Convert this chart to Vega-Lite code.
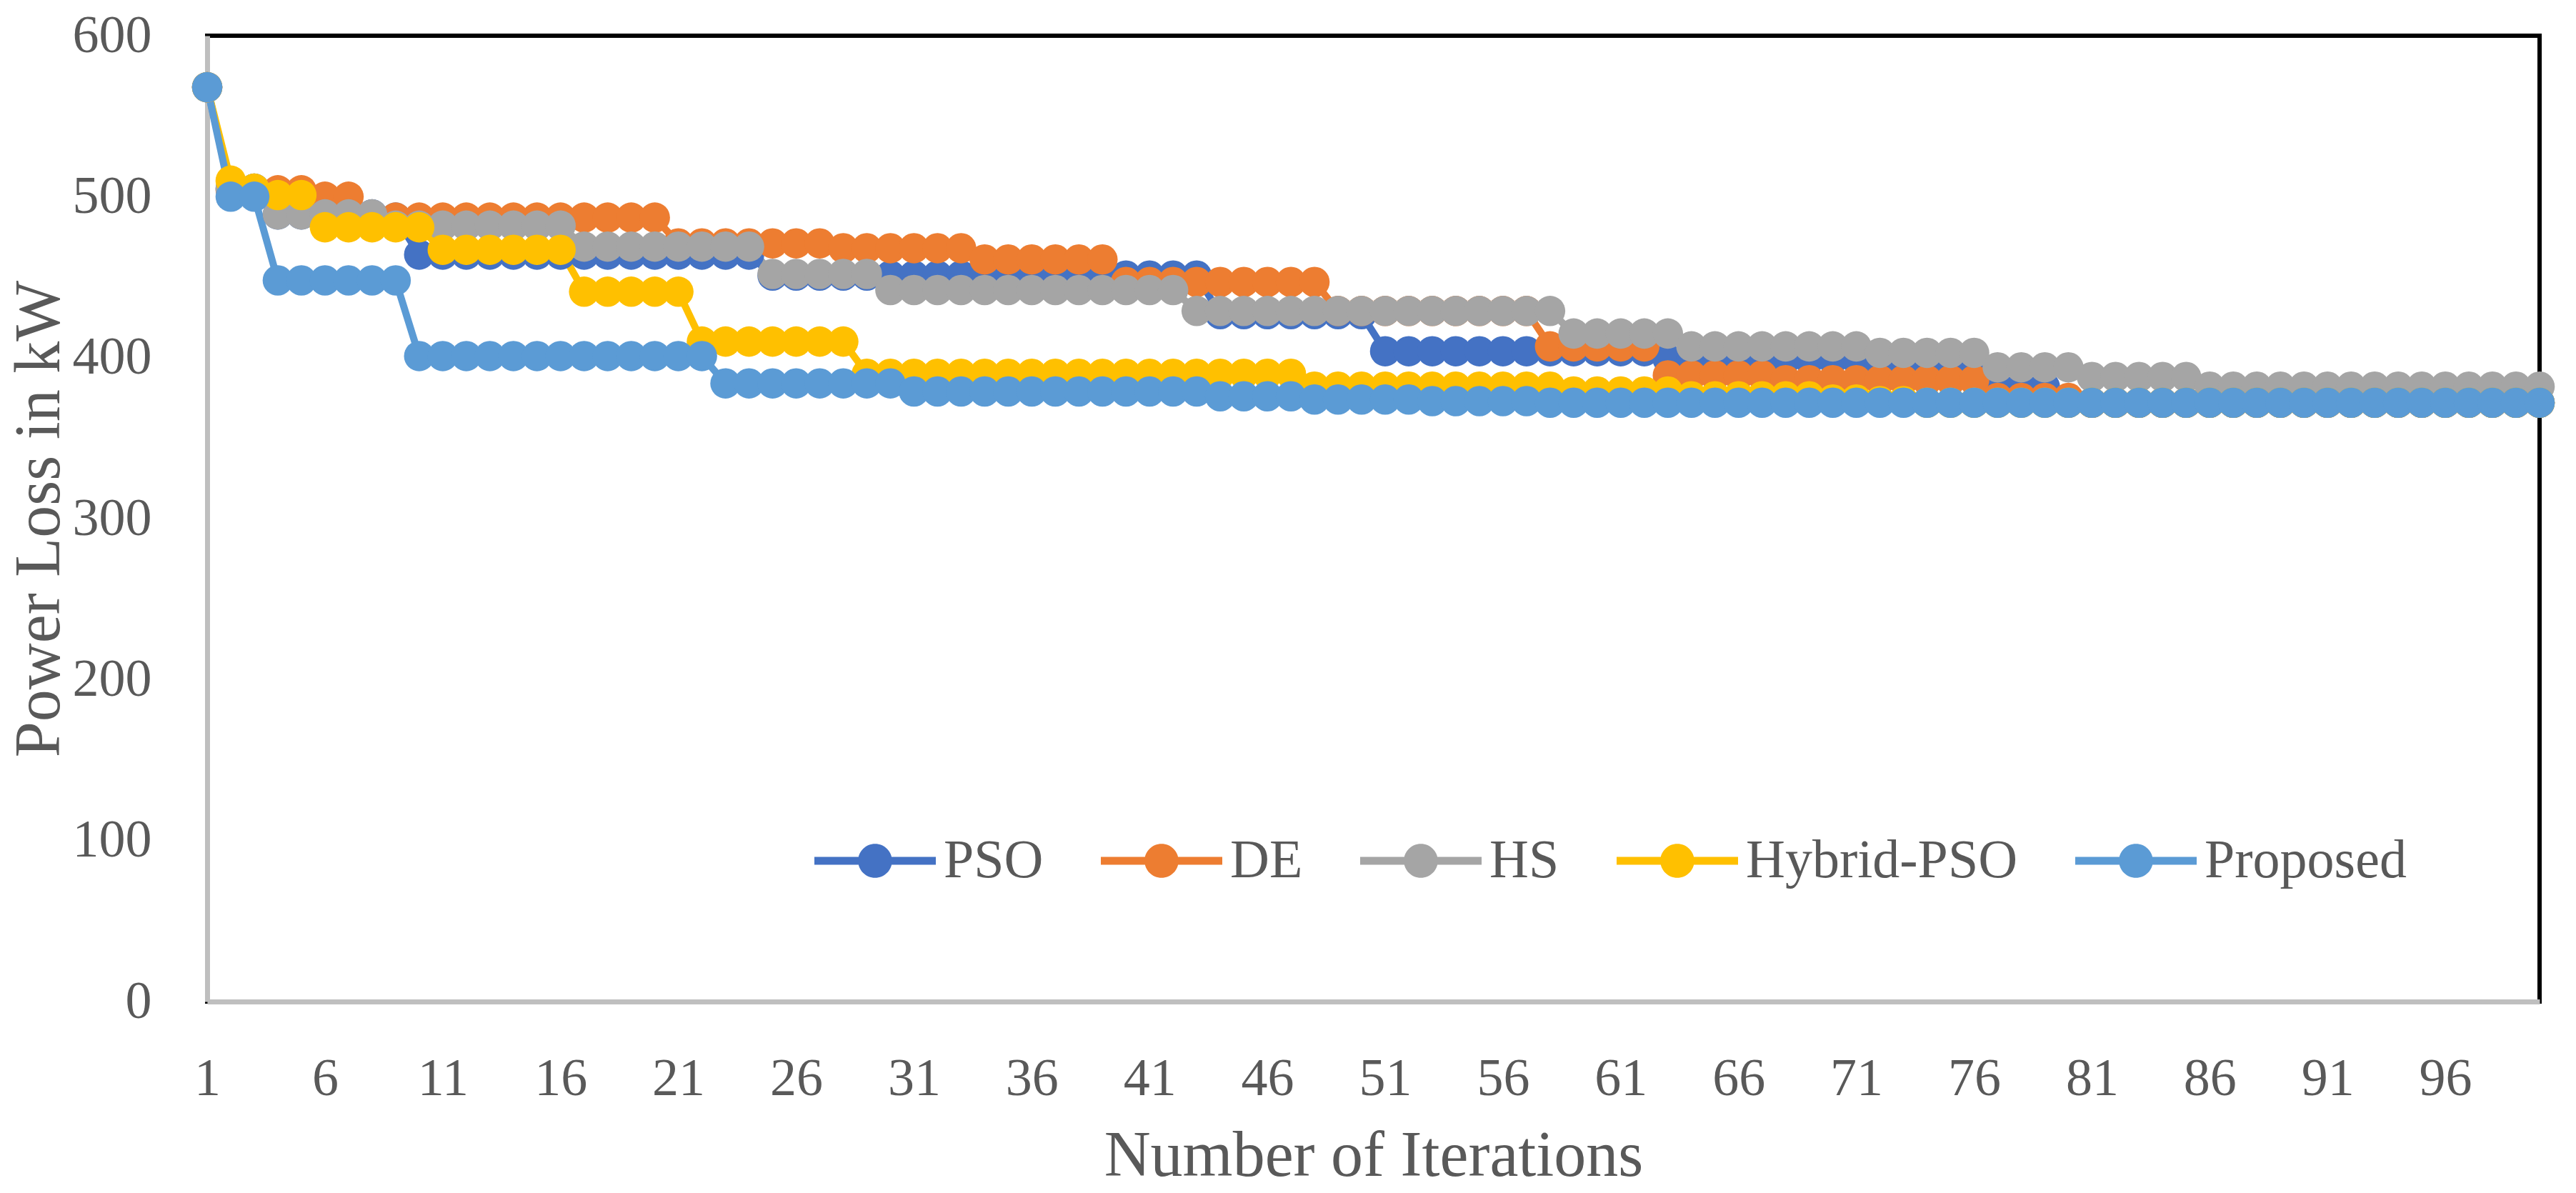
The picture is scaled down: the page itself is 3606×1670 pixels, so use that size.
{
"$schema":"https://vega.github.io/schema/vega-lite/v6.json",
"width":3265,"height":1352,
"autosize":{"type":"none"},
"padding":{"left":290,"top":50,"right":51,"bottom":268},
"background":"white",
"config":{"view":{"stroke":"black","strokeWidth":6},"font":"Liberation Serif"},
"data":{"values":[
{"i":1,"s":"PSO","v":568},{"i":2,"s":"PSO","v":505},{"i":3,"s":"PSO","v":505},{"i":4,"s":"PSO","v":489},{"i":5,"s":"PSO","v":489},{"i":6,"s":"PSO","v":489},{"i":7,"s":"PSO","v":489},{"i":8,"s":"PSO","v":489},{"i":9,"s":"PSO","v":487},{"i":10,"s":"PSO","v":464},
{"i":11,"s":"PSO","v":464},{"i":12,"s":"PSO","v":464},{"i":13,"s":"PSO","v":464},{"i":14,"s":"PSO","v":464},{"i":15,"s":"PSO","v":464},{"i":16,"s":"PSO","v":464},{"i":17,"s":"PSO","v":464},{"i":18,"s":"PSO","v":464},{"i":19,"s":"PSO","v":464},{"i":20,"s":"PSO","v":464},
{"i":21,"s":"PSO","v":464},{"i":22,"s":"PSO","v":464},{"i":23,"s":"PSO","v":464},{"i":24,"s":"PSO","v":464},{"i":25,"s":"PSO","v":451},{"i":26,"s":"PSO","v":451},{"i":27,"s":"PSO","v":451},{"i":28,"s":"PSO","v":451},{"i":29,"s":"PSO","v":451},{"i":30,"s":"PSO","v":451},
{"i":31,"s":"PSO","v":451},{"i":32,"s":"PSO","v":451},{"i":33,"s":"PSO","v":451},{"i":34,"s":"PSO","v":451},{"i":35,"s":"PSO","v":451},{"i":36,"s":"PSO","v":451},{"i":37,"s":"PSO","v":451},{"i":38,"s":"PSO","v":451},{"i":39,"s":"PSO","v":451},{"i":40,"s":"PSO","v":451},
{"i":41,"s":"PSO","v":451},{"i":42,"s":"PSO","v":451},{"i":43,"s":"PSO","v":451},{"i":44,"s":"PSO","v":427},{"i":45,"s":"PSO","v":427},{"i":46,"s":"PSO","v":427},{"i":47,"s":"PSO","v":427},{"i":48,"s":"PSO","v":427},{"i":49,"s":"PSO","v":427},{"i":50,"s":"PSO","v":427},
{"i":51,"s":"PSO","v":404},{"i":52,"s":"PSO","v":404},{"i":53,"s":"PSO","v":404},{"i":54,"s":"PSO","v":404},{"i":55,"s":"PSO","v":404},{"i":56,"s":"PSO","v":404},{"i":57,"s":"PSO","v":404},{"i":58,"s":"PSO","v":404},{"i":59,"s":"PSO","v":404},{"i":60,"s":"PSO","v":404},
{"i":61,"s":"PSO","v":404},{"i":62,"s":"PSO","v":404},{"i":63,"s":"PSO","v":399},{"i":64,"s":"PSO","v":399},{"i":65,"s":"PSO","v":399},{"i":66,"s":"PSO","v":399},{"i":67,"s":"PSO","v":399},{"i":68,"s":"PSO","v":399},{"i":69,"s":"PSO","v":399},{"i":70,"s":"PSO","v":399},
{"i":71,"s":"PSO","v":399},{"i":72,"s":"PSO","v":395},{"i":73,"s":"PSO","v":395},{"i":74,"s":"PSO","v":395},{"i":75,"s":"PSO","v":395},{"i":76,"s":"PSO","v":395},{"i":77,"s":"PSO","v":382},{"i":78,"s":"PSO","v":382},{"i":79,"s":"PSO","v":382},{"i":80,"s":"PSO","v":372},
{"i":81,"s":"PSO","v":372},{"i":82,"s":"PSO","v":372},{"i":83,"s":"PSO","v":372},{"i":84,"s":"PSO","v":372},{"i":85,"s":"PSO","v":372},{"i":86,"s":"PSO","v":372},{"i":87,"s":"PSO","v":372},{"i":88,"s":"PSO","v":372},{"i":89,"s":"PSO","v":372},{"i":90,"s":"PSO","v":372},
{"i":91,"s":"PSO","v":372},{"i":92,"s":"PSO","v":372},{"i":93,"s":"PSO","v":372},{"i":94,"s":"PSO","v":372},{"i":95,"s":"PSO","v":372},{"i":96,"s":"PSO","v":372},{"i":97,"s":"PSO","v":372},{"i":98,"s":"PSO","v":372},{"i":99,"s":"PSO","v":372},{"i":100,"s":"PSO","v":372},
{"i":1,"s":"DE","v":568},{"i":2,"s":"DE","v":504},{"i":3,"s":"DE","v":504},{"i":4,"s":"DE","v":504},{"i":5,"s":"DE","v":504},{"i":6,"s":"DE","v":500},{"i":7,"s":"DE","v":500},{"i":8,"s":"DE","v":487},{"i":9,"s":"DE","v":487},{"i":10,"s":"DE","v":487},
{"i":11,"s":"DE","v":487},{"i":12,"s":"DE","v":487},{"i":13,"s":"DE","v":487},{"i":14,"s":"DE","v":487},{"i":15,"s":"DE","v":487},{"i":16,"s":"DE","v":487},{"i":17,"s":"DE","v":487},{"i":18,"s":"DE","v":487},{"i":19,"s":"DE","v":487},{"i":20,"s":"DE","v":487},
{"i":21,"s":"DE","v":471},{"i":22,"s":"DE","v":471},{"i":23,"s":"DE","v":471},{"i":24,"s":"DE","v":471},{"i":25,"s":"DE","v":471},{"i":26,"s":"DE","v":471},{"i":27,"s":"DE","v":471},{"i":28,"s":"DE","v":468},{"i":29,"s":"DE","v":468},{"i":30,"s":"DE","v":468},
{"i":31,"s":"DE","v":468},{"i":32,"s":"DE","v":468},{"i":33,"s":"DE","v":468},{"i":34,"s":"DE","v":461},{"i":35,"s":"DE","v":461},{"i":36,"s":"DE","v":461},{"i":37,"s":"DE","v":461},{"i":38,"s":"DE","v":461},{"i":39,"s":"DE","v":461},{"i":40,"s":"DE","v":447},
{"i":41,"s":"DE","v":447},{"i":42,"s":"DE","v":447},{"i":43,"s":"DE","v":447},{"i":44,"s":"DE","v":447},{"i":45,"s":"DE","v":447},{"i":46,"s":"DE","v":447},{"i":47,"s":"DE","v":447},{"i":48,"s":"DE","v":447},{"i":49,"s":"DE","v":429},{"i":50,"s":"DE","v":429},
{"i":51,"s":"DE","v":429},{"i":52,"s":"DE","v":429},{"i":53,"s":"DE","v":429},{"i":54,"s":"DE","v":429},{"i":55,"s":"DE","v":429},{"i":56,"s":"DE","v":429},{"i":57,"s":"DE","v":429},{"i":58,"s":"DE","v":407},{"i":59,"s":"DE","v":407},{"i":60,"s":"DE","v":407},
{"i":61,"s":"DE","v":407},{"i":62,"s":"DE","v":407},{"i":63,"s":"DE","v":389},{"i":64,"s":"DE","v":389},{"i":65,"s":"DE","v":389},{"i":66,"s":"DE","v":389},{"i":67,"s":"DE","v":389},{"i":68,"s":"DE","v":386},{"i":69,"s":"DE","v":386},{"i":70,"s":"DE","v":386},
{"i":71,"s":"DE","v":386},{"i":72,"s":"DE","v":386},{"i":73,"s":"DE","v":386},{"i":74,"s":"DE","v":386},{"i":75,"s":"DE","v":386},{"i":76,"s":"DE","v":386},{"i":77,"s":"DE","v":375},{"i":78,"s":"DE","v":375},{"i":79,"s":"DE","v":375},{"i":80,"s":"DE","v":375},
{"i":81,"s":"DE","v":372},{"i":82,"s":"DE","v":372},{"i":83,"s":"DE","v":372},{"i":84,"s":"DE","v":372},{"i":85,"s":"DE","v":372},{"i":86,"s":"DE","v":372},{"i":87,"s":"DE","v":372},{"i":88,"s":"DE","v":372},{"i":89,"s":"DE","v":372},{"i":90,"s":"DE","v":372},
{"i":91,"s":"DE","v":372},{"i":92,"s":"DE","v":372},{"i":93,"s":"DE","v":372},{"i":94,"s":"DE","v":372},{"i":95,"s":"DE","v":372},{"i":96,"s":"DE","v":372},{"i":97,"s":"DE","v":372},{"i":98,"s":"DE","v":372},{"i":99,"s":"DE","v":372},{"i":100,"s":"DE","v":372},
{"i":1,"s":"HS","v":568},{"i":2,"s":"HS","v":505},{"i":3,"s":"HS","v":505},{"i":4,"s":"HS","v":489},{"i":5,"s":"HS","v":489},{"i":6,"s":"HS","v":489},{"i":7,"s":"HS","v":489},{"i":8,"s":"HS","v":489},{"i":9,"s":"HS","v":482},{"i":10,"s":"HS","v":482},
{"i":11,"s":"HS","v":482},{"i":12,"s":"HS","v":482},{"i":13,"s":"HS","v":482},{"i":14,"s":"HS","v":482},{"i":15,"s":"HS","v":482},{"i":16,"s":"HS","v":482},{"i":17,"s":"HS","v":469},{"i":18,"s":"HS","v":469},{"i":19,"s":"HS","v":469},{"i":20,"s":"HS","v":469},
{"i":21,"s":"HS","v":469},{"i":22,"s":"HS","v":469},{"i":23,"s":"HS","v":469},{"i":24,"s":"HS","v":469},{"i":25,"s":"HS","v":452},{"i":26,"s":"HS","v":452},{"i":27,"s":"HS","v":452},{"i":28,"s":"HS","v":452},{"i":29,"s":"HS","v":452},{"i":30,"s":"HS","v":442},
{"i":31,"s":"HS","v":442},{"i":32,"s":"HS","v":442},{"i":33,"s":"HS","v":442},{"i":34,"s":"HS","v":442},{"i":35,"s":"HS","v":442},{"i":36,"s":"HS","v":442},{"i":37,"s":"HS","v":442},{"i":38,"s":"HS","v":442},{"i":39,"s":"HS","v":442},{"i":40,"s":"HS","v":442},
{"i":41,"s":"HS","v":442},{"i":42,"s":"HS","v":442},{"i":43,"s":"HS","v":429},{"i":44,"s":"HS","v":429},{"i":45,"s":"HS","v":429},{"i":46,"s":"HS","v":429},{"i":47,"s":"HS","v":429},{"i":48,"s":"HS","v":429},{"i":49,"s":"HS","v":429},{"i":50,"s":"HS","v":429},
{"i":51,"s":"HS","v":429},{"i":52,"s":"HS","v":429},{"i":53,"s":"HS","v":429},{"i":54,"s":"HS","v":429},{"i":55,"s":"HS","v":429},{"i":56,"s":"HS","v":429},{"i":57,"s":"HS","v":429},{"i":58,"s":"HS","v":429},{"i":59,"s":"HS","v":415},{"i":60,"s":"HS","v":415},
{"i":61,"s":"HS","v":415},{"i":62,"s":"HS","v":415},{"i":63,"s":"HS","v":415},{"i":64,"s":"HS","v":407},{"i":65,"s":"HS","v":407},{"i":66,"s":"HS","v":407},{"i":67,"s":"HS","v":407},{"i":68,"s":"HS","v":407},{"i":69,"s":"HS","v":407},{"i":70,"s":"HS","v":407},
{"i":71,"s":"HS","v":407},{"i":72,"s":"HS","v":403},{"i":73,"s":"HS","v":403},{"i":74,"s":"HS","v":403},{"i":75,"s":"HS","v":403},{"i":76,"s":"HS","v":403},{"i":77,"s":"HS","v":394},{"i":78,"s":"HS","v":394},{"i":79,"s":"HS","v":394},{"i":80,"s":"HS","v":394},
{"i":81,"s":"HS","v":388},{"i":82,"s":"HS","v":388},{"i":83,"s":"HS","v":388},{"i":84,"s":"HS","v":388},{"i":85,"s":"HS","v":388},{"i":86,"s":"HS","v":382},{"i":87,"s":"HS","v":382},{"i":88,"s":"HS","v":382},{"i":89,"s":"HS","v":382},{"i":90,"s":"HS","v":382},
{"i":91,"s":"HS","v":382},{"i":92,"s":"HS","v":382},{"i":93,"s":"HS","v":382},{"i":94,"s":"HS","v":382},{"i":95,"s":"HS","v":382},{"i":96,"s":"HS","v":382},{"i":97,"s":"HS","v":382},{"i":98,"s":"HS","v":382},{"i":99,"s":"HS","v":382},{"i":100,"s":"HS","v":382},
{"i":1,"s":"Hybrid-PSO","v":568},{"i":2,"s":"Hybrid-PSO","v":510},{"i":3,"s":"Hybrid-PSO","v":505},{"i":4,"s":"Hybrid-PSO","v":501},{"i":5,"s":"Hybrid-PSO","v":501},{"i":6,"s":"Hybrid-PSO","v":481},{"i":7,"s":"Hybrid-PSO","v":481},{"i":8,"s":"Hybrid-PSO","v":481},{"i":9,"s":"Hybrid-PSO","v":481},{"i":10,"s":"Hybrid-PSO","v":481},
{"i":11,"s":"Hybrid-PSO","v":467},{"i":12,"s":"Hybrid-PSO","v":467},{"i":13,"s":"Hybrid-PSO","v":467},{"i":14,"s":"Hybrid-PSO","v":467},{"i":15,"s":"Hybrid-PSO","v":467},{"i":16,"s":"Hybrid-PSO","v":467},{"i":17,"s":"Hybrid-PSO","v":441},{"i":18,"s":"Hybrid-PSO","v":441},{"i":19,"s":"Hybrid-PSO","v":441},{"i":20,"s":"Hybrid-PSO","v":441},
{"i":21,"s":"Hybrid-PSO","v":441},{"i":22,"s":"Hybrid-PSO","v":410},{"i":23,"s":"Hybrid-PSO","v":410},{"i":24,"s":"Hybrid-PSO","v":410},{"i":25,"s":"Hybrid-PSO","v":410},{"i":26,"s":"Hybrid-PSO","v":410},{"i":27,"s":"Hybrid-PSO","v":410},{"i":28,"s":"Hybrid-PSO","v":410},{"i":29,"s":"Hybrid-PSO","v":390},{"i":30,"s":"Hybrid-PSO","v":390},
{"i":31,"s":"Hybrid-PSO","v":390},{"i":32,"s":"Hybrid-PSO","v":390},{"i":33,"s":"Hybrid-PSO","v":390},{"i":34,"s":"Hybrid-PSO","v":390},{"i":35,"s":"Hybrid-PSO","v":390},{"i":36,"s":"Hybrid-PSO","v":390},{"i":37,"s":"Hybrid-PSO","v":390},{"i":38,"s":"Hybrid-PSO","v":390},{"i":39,"s":"Hybrid-PSO","v":390},{"i":40,"s":"Hybrid-PSO","v":390},
{"i":41,"s":"Hybrid-PSO","v":390},{"i":42,"s":"Hybrid-PSO","v":390},{"i":43,"s":"Hybrid-PSO","v":390},{"i":44,"s":"Hybrid-PSO","v":390},{"i":45,"s":"Hybrid-PSO","v":390},{"i":46,"s":"Hybrid-PSO","v":390},{"i":47,"s":"Hybrid-PSO","v":390},{"i":48,"s":"Hybrid-PSO","v":382},{"i":49,"s":"Hybrid-PSO","v":382},{"i":50,"s":"Hybrid-PSO","v":382},
{"i":51,"s":"Hybrid-PSO","v":382},{"i":52,"s":"Hybrid-PSO","v":382},{"i":53,"s":"Hybrid-PSO","v":382},{"i":54,"s":"Hybrid-PSO","v":382},{"i":55,"s":"Hybrid-PSO","v":382},{"i":56,"s":"Hybrid-PSO","v":382},{"i":57,"s":"Hybrid-PSO","v":382},{"i":58,"s":"Hybrid-PSO","v":382},{"i":59,"s":"Hybrid-PSO","v":379},{"i":60,"s":"Hybrid-PSO","v":379},
{"i":61,"s":"Hybrid-PSO","v":379},{"i":62,"s":"Hybrid-PSO","v":379},{"i":63,"s":"Hybrid-PSO","v":379},{"i":64,"s":"Hybrid-PSO","v":376},{"i":65,"s":"Hybrid-PSO","v":376},{"i":66,"s":"Hybrid-PSO","v":376},{"i":67,"s":"Hybrid-PSO","v":376},{"i":68,"s":"Hybrid-PSO","v":376},{"i":69,"s":"Hybrid-PSO","v":376},{"i":70,"s":"Hybrid-PSO","v":374},
{"i":71,"s":"Hybrid-PSO","v":374},{"i":72,"s":"Hybrid-PSO","v":373},{"i":73,"s":"Hybrid-PSO","v":373},{"i":74,"s":"Hybrid-PSO","v":372},{"i":75,"s":"Hybrid-PSO","v":372},{"i":76,"s":"Hybrid-PSO","v":372},{"i":77,"s":"Hybrid-PSO","v":372},{"i":78,"s":"Hybrid-PSO","v":372},{"i":79,"s":"Hybrid-PSO","v":372},{"i":80,"s":"Hybrid-PSO","v":372},
{"i":81,"s":"Hybrid-PSO","v":372},{"i":82,"s":"Hybrid-PSO","v":372},{"i":83,"s":"Hybrid-PSO","v":372},{"i":84,"s":"Hybrid-PSO","v":372},{"i":85,"s":"Hybrid-PSO","v":372},{"i":86,"s":"Hybrid-PSO","v":372},{"i":87,"s":"Hybrid-PSO","v":372},{"i":88,"s":"Hybrid-PSO","v":372},{"i":89,"s":"Hybrid-PSO","v":372},{"i":90,"s":"Hybrid-PSO","v":372},
{"i":91,"s":"Hybrid-PSO","v":372},{"i":92,"s":"Hybrid-PSO","v":372},{"i":93,"s":"Hybrid-PSO","v":372},{"i":94,"s":"Hybrid-PSO","v":372},{"i":95,"s":"Hybrid-PSO","v":372},{"i":96,"s":"Hybrid-PSO","v":372},{"i":97,"s":"Hybrid-PSO","v":372},{"i":98,"s":"Hybrid-PSO","v":372},{"i":99,"s":"Hybrid-PSO","v":372},{"i":100,"s":"Hybrid-PSO","v":372},
{"i":1,"s":"Proposed","v":568},{"i":2,"s":"Proposed","v":500},{"i":3,"s":"Proposed","v":500},{"i":4,"s":"Proposed","v":448},{"i":5,"s":"Proposed","v":448},{"i":6,"s":"Proposed","v":448},{"i":7,"s":"Proposed","v":448},{"i":8,"s":"Proposed","v":448},{"i":9,"s":"Proposed","v":448},{"i":10,"s":"Proposed","v":401},
{"i":11,"s":"Proposed","v":401},{"i":12,"s":"Proposed","v":401},{"i":13,"s":"Proposed","v":401},{"i":14,"s":"Proposed","v":401},{"i":15,"s":"Proposed","v":401},{"i":16,"s":"Proposed","v":401},{"i":17,"s":"Proposed","v":401},{"i":18,"s":"Proposed","v":401},{"i":19,"s":"Proposed","v":401},{"i":20,"s":"Proposed","v":401},
{"i":21,"s":"Proposed","v":401},{"i":22,"s":"Proposed","v":401},{"i":23,"s":"Proposed","v":384},{"i":24,"s":"Proposed","v":384},{"i":25,"s":"Proposed","v":384},{"i":26,"s":"Proposed","v":384},{"i":27,"s":"Proposed","v":384},{"i":28,"s":"Proposed","v":384},{"i":29,"s":"Proposed","v":384},{"i":30,"s":"Proposed","v":384},
{"i":31,"s":"Proposed","v":379},{"i":32,"s":"Proposed","v":379},{"i":33,"s":"Proposed","v":379},{"i":34,"s":"Proposed","v":379},{"i":35,"s":"Proposed","v":379},{"i":36,"s":"Proposed","v":379},{"i":37,"s":"Proposed","v":379},{"i":38,"s":"Proposed","v":379},{"i":39,"s":"Proposed","v":379},{"i":40,"s":"Proposed","v":379},
{"i":41,"s":"Proposed","v":379},{"i":42,"s":"Proposed","v":379},{"i":43,"s":"Proposed","v":379},{"i":44,"s":"Proposed","v":376},{"i":45,"s":"Proposed","v":376},{"i":46,"s":"Proposed","v":376},{"i":47,"s":"Proposed","v":376},{"i":48,"s":"Proposed","v":374},{"i":49,"s":"Proposed","v":374},{"i":50,"s":"Proposed","v":374},
{"i":51,"s":"Proposed","v":374},{"i":52,"s":"Proposed","v":374},{"i":53,"s":"Proposed","v":373},{"i":54,"s":"Proposed","v":373},{"i":55,"s":"Proposed","v":373},{"i":56,"s":"Proposed","v":373},{"i":57,"s":"Proposed","v":373},{"i":58,"s":"Proposed","v":372},{"i":59,"s":"Proposed","v":372},{"i":60,"s":"Proposed","v":372},
{"i":61,"s":"Proposed","v":372},{"i":62,"s":"Proposed","v":372},{"i":63,"s":"Proposed","v":372},{"i":64,"s":"Proposed","v":372},{"i":65,"s":"Proposed","v":372},{"i":66,"s":"Proposed","v":372},{"i":67,"s":"Proposed","v":372},{"i":68,"s":"Proposed","v":372},{"i":69,"s":"Proposed","v":372},{"i":70,"s":"Proposed","v":372},
{"i":71,"s":"Proposed","v":372},{"i":72,"s":"Proposed","v":372},{"i":73,"s":"Proposed","v":372},{"i":74,"s":"Proposed","v":372},{"i":75,"s":"Proposed","v":372},{"i":76,"s":"Proposed","v":372},{"i":77,"s":"Proposed","v":372},{"i":78,"s":"Proposed","v":372},{"i":79,"s":"Proposed","v":372},{"i":80,"s":"Proposed","v":372},
{"i":81,"s":"Proposed","v":372},{"i":82,"s":"Proposed","v":372},{"i":83,"s":"Proposed","v":372},{"i":84,"s":"Proposed","v":372},{"i":85,"s":"Proposed","v":372},{"i":86,"s":"Proposed","v":372},{"i":87,"s":"Proposed","v":372},{"i":88,"s":"Proposed","v":372},{"i":89,"s":"Proposed","v":372},{"i":90,"s":"Proposed","v":372},
{"i":91,"s":"Proposed","v":372},{"i":92,"s":"Proposed","v":372},{"i":93,"s":"Proposed","v":372},{"i":94,"s":"Proposed","v":372},{"i":95,"s":"Proposed","v":372},{"i":96,"s":"Proposed","v":372},{"i":97,"s":"Proposed","v":372},{"i":98,"s":"Proposed","v":372},{"i":99,"s":"Proposed","v":372},{"i":100,"s":"Proposed","v":372}
]},
"encoding":{
"x":{"field":"i","type":"quantitative","scale":{"domain":[1,100],"nice":false,"zero":false},
 "axis":{"values":[1,6,11,16,21,26,31,36,41,46,51,56,61,66,71,76,81,86,91,96],"title":"Number of Iterations","grid":false,"ticks":false,"tickSize":0,"domainColor":"#BFBFBF","domainWidth":7,"labelFont":"Liberation Serif","labelFontSize":74,"labelColor":"#595959","labelPadding":72,"labelFlush":false,"labelOverlap":false,"titleFont":"Liberation Serif","titleFontSize":90,"titleFontWeight":"normal","titleColor":"#595959","titleY":243,"titleBaseline":"alphabetic"}},
"y":{"field":"v","type":"quantitative","scale":{"domain":[0,600],"nice":false},
 "axis":{"values":[0,100,200,300,400,500,600],"title":"Power Loss in kW","grid":false,"ticks":false,"tickSize":0,"domainColor":"#BFBFBF","domainWidth":7,"labelFont":"Liberation Serif","labelFontSize":74,"labelColor":"#595959","labelPadding":78,"labelFlush":false,"labelOverlap":false,"titleFont":"Liberation Serif","titleFontSize":90,"titleFontWeight":"normal","titleColor":"#595959","titleX":-208,"titleY":676,"titleAngle":-90,"titleBaseline":"alphabetic","titleAlign":"center"}},
"color":{"field":"s","type":"nominal","scale":{"domain":["PSO","DE","HS","Hybrid-PSO","Proposed"],"range":["#4472C4","#ED7D31","#A5A5A5","#FFC000","#5B9BD5"]},
 "legend":{"orient":"none","legendX":850,"legendY":1070,"direction":"horizontal","title":null,"symbolType":"M-1,-0.065H1V0.065H-1Z M-0.28,0A0.28,0.28 0 1,1 0.28,0A0.28,0.28 0 1,1 -0.28,0Z","symbolSize":28900,"symbolStrokeWidth":0,"labelFont":"Liberation Serif","labelFontSize":76,"labelColor":"#595959","labelOffset":11,"columnPadding":80,"labelLimit":0,
  "encode":{"symbols":{"update":{"fill":{"scale":"color","field":"value"},"stroke":{"value":"transparent"},"opacity":{"value":1}}}}}}
},
"layer":[
 {"mark":{"type":"line","strokeWidth":10},"encoding":{}},
 {"mark":{"type":"point","filled":true,"size":1810,"opacity":1},"encoding":{}}
]
}
